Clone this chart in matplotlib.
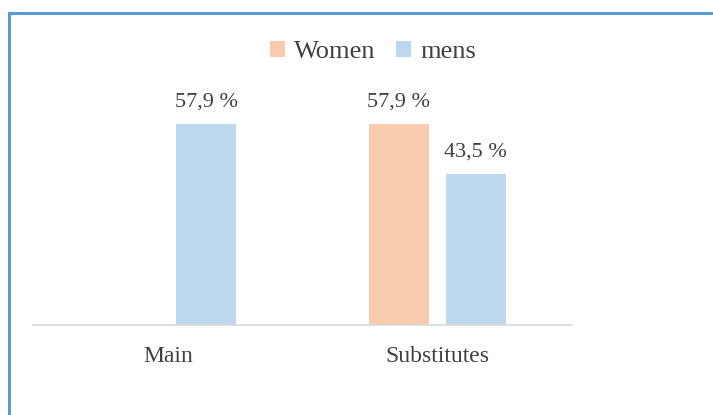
import numpy as np
import matplotlib.pyplot as plt
from matplotlib.patches import Rectangle

categories = ["Main", "Substitutes"]
women = [0.0, 57.9]
mens = [57.9, 43.5]
women_labels = ["", "57,9 %"]
mens_labels = ["57,9 %", "43,5 %"]

plt.rcParams['font.family'] = ['Liberation Serif', 'DejaVu Serif']

W, H = 713, 415
fig = plt.figure(figsize=(W / 100, H / 100), dpi=100)

# blue frame of the chart area, runs off the right and bottom edges
fig.patches.append(Rectangle((9 / W, -0.1), 1.2, 1.1 - 13 / H, transform=fig.transFigure,
                             fill=False, edgecolor='#5B9BD5', linewidth=2.2))

ax = fig.add_axes([33 / W, 90 / H, 539 / W, 243 / H])
x = np.arange(len(categories))
bw = 0.223
off = 0.143
b1 = ax.bar(x - off, women, bw, color='#F8CBAD', label='Women')
b2 = ax.bar(x + off, mens, bw, color='#BDD7EE', label='mens')

for rects, labs in [(b1, women_labels), (b2, mens_labels)]:
    for r, lab in zip(rects, labs):
        if lab:
            ax.annotate(lab, (r.get_x() + r.get_width() / 2, r.get_height()),
                        xytext=(0, 9), textcoords='offset points',
                        ha='center', va='bottom', fontsize=16, color='#404040')

ax.set_xlim(-0.5, 1.5)
ax.set_ylim(0, 70)
ax.set_xticks(x)
ax.set_xticklabels(categories, fontsize=17, color='#404040')
ax.tick_params(axis='x', length=0, pad=15)
ax.set_yticks([])
for s in ['top', 'right', 'left']:
    ax.spines[s].set_visible(False)
ax.spines['bottom'].set_color('#D9D9D9')
ax.spines['bottom'].set_linewidth(1.2)

fig.legend(loc='center', bbox_to_anchor=(373 / W, 1 - 52 / H), ncol=2, frameon=False,
           fontsize=19, handlelength=0.55, handleheight=0.55, handletextpad=0.35,
           columnspacing=0.8, labelcolor='#404040')

fig.savefig('out.png', dpi=100)
